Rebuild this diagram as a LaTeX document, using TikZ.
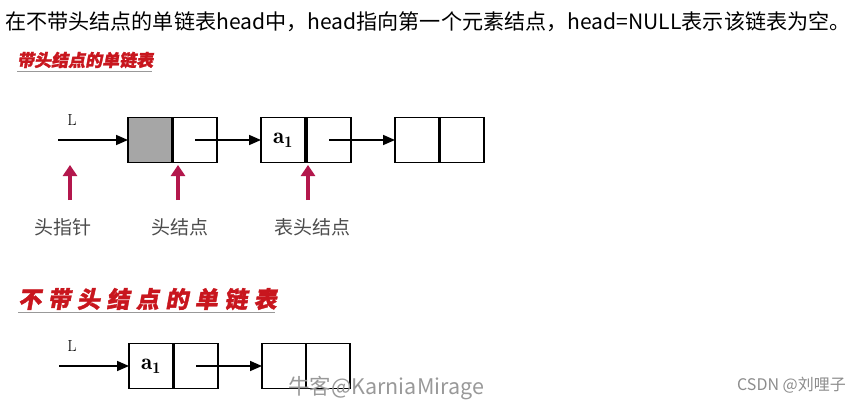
\documentclass[tikz,border=0pt]{standalone}
\usepackage{fontspec}
\usepackage{tikz}
\usetikzlibrary{arrows.meta,calc,positioning}
\newfontfamily\cjk{Noto Sans CJK SC}
\newfontfamily\titlecjk[FakeSlant=0.18,FakeBold=1.5]{Noto Sans CJK SC}
\definecolor{titlered}{HTML}{C8161E}
\definecolor{arrowred}{HTML}{B3174C}
\tikzstyle{cell}=[draw,line width=1.8pt,minimum width=44pt,minimum height=45pt,inner sep=0pt,outer sep=0pt]
\tikzstyle{ptr}=[line width=1.6pt,-{Triangle[length=12pt,width=10pt]}]
\tikzstyle{uparrow}=[arrowred,line width=4pt,-{Triangle[length=11pt,width=14pt]}]
\tikzstyle{lab}=[text=black!70,font=\cjk\fontsize{19}{19}\selectfont]
\tikzstyle{elem}=[font=\fontsize{23}{23}\selectfont]

\begin{document}
\begin{tikzpicture}[x=1pt,y=-1pt]
\useasboundingbox (0,0) rectangle (861,404);
\node[anchor=west,inner sep=0pt,font=\cjk\fontsize{21.1}{21.1}\selectfont] (top) at (5,22)
  {在不带头结点的单链表head中，head指向第一个元素结点，head=NULL表示该链表为空。};
% with head node
\node[anchor=west,inner sep=0pt,text=titlered,
  font=\titlecjk\bfseries\fontsize{17}{17}\selectfont] (t1) at (17,60) {带头结点的单链表};
\draw[black!40,line width=1pt] (17,71) -- (152,71);
\node[cell,fill=black!35] (hd) at (150,140) {};
\path (hd)++(45,0) node[cell] (hn) {};
\path (hn)++(88,0) node[cell,elem] (ad) {$\mathbf{a}_{\mathbf{1}}$};
\path (ad)++(46,0) node[cell] (an) {};
\path (an)++(88,0) node[cell] (bd) {};
\path (bd)++(45,0) node[cell] (bn) {};
\coordinate (l1) at ($(hd.west)+(-70,0)$);
\node[font=\fontsize{16}{16}\selectfont] (L1) at (72,120) {L};
\draw[ptr] (l1) -- (hd.west);
\draw[ptr] (hn.center) -- (ad.west);
\draw[ptr] (an.center) -- (bd.west);
\coordinate (p1) at (70,200);  \coordinate (q1) at (70,165);
\coordinate (p2) at (178,200); \coordinate (q2) at (178,165);
\coordinate (p3) at (308,200); \coordinate (q3) at (308,165);
\draw[uparrow] (p1) -- (q1);
\draw[uparrow] (p2) -- (q2);
\draw[uparrow] (p3) -- (q3);
\node[lab] (n1) at (63,227) {头指针};
\node[lab] (n2) at (180,227) {头结点};
\node[lab] (n3) at (312,227) {表头结点};
% without head node
\node[anchor=west,inner sep=0pt,text=titlered,
  font=\titlecjk\bfseries\fontsize{23}{23}\selectfont\addfontfeature{LetterSpace=28}] (t2) at (18,299) {不带头结点的单链表};
\draw[black!40,line width=1pt] (18,312) -- (275,312);
\node[cell,elem] (cd) at (151,366) {$\mathbf{a}_{\mathbf{1}}$};
\path (cd)++(45,0) node[cell] (cn) {};
\path (cn)++(88,0) node[cell] (dd) {};
\path (dd)++(44,0) node[cell] (dn) {};
\coordinate (l2) at ($(cd.west)+(-70,0)$);
\node[font=\fontsize{16}{16}\selectfont] (L2) at (72,346) {L};
\draw[ptr] (l2) -- (cd.west);
\draw[ptr] (cn.center) -- (dd.west);
\node[anchor=west,inner sep=0pt,text=black!40,font=\cjk\fontsize{21.5}{21.5}\selectfont] (wm) at (288,388) {牛客@KarniaMirage};
\node[anchor=east,inner sep=0pt,text=black!45,font=\cjk\fontsize{16}{16}\selectfont] (csdn) at (846,385) {CSDN @刘哩子};
\end{tikzpicture}
\end{document}
